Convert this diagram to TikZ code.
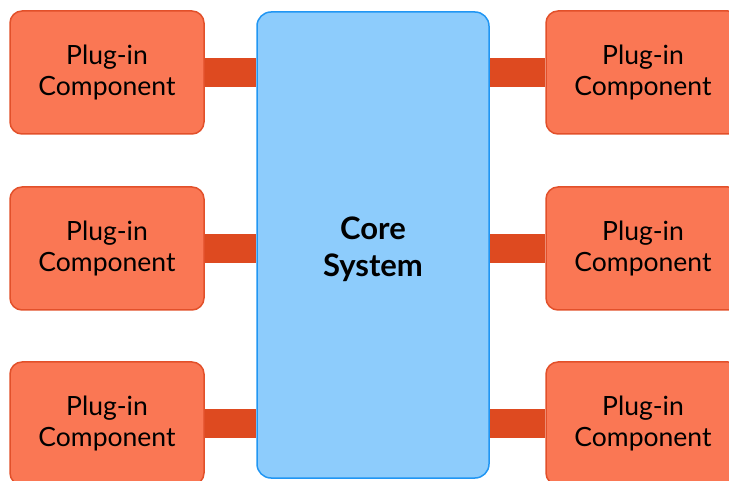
\documentclass[tikz,border=0pt]{standalone}
\usepackage{fontspec}
\setmainfont{Lato}
\usetikzlibrary{backgrounds}
\definecolor{plugfill}{HTML}{FA7754}
\definecolor{plugdraw}{HTML}{E2502A}
\definecolor{barcol}{HTML}{DE4A20}
\definecolor{corefill}{HTML}{8DCCFC}
\definecolor{coredraw}{HTML}{2196F3}
\begin{document}
\begin{tikzpicture}[x=1pt,y=-1pt,
  plug/.style={rectangle, rounded corners=12pt, minimum width=194pt, minimum height=123pt,
    fill=plugfill, draw=plugdraw, line width=1.5pt, align=center, inner sep=0pt,
    font=\fontsize{26.5}{31}\selectfont},
  core/.style={rectangle, rounded corners=14pt, minimum width=232pt, minimum height=466pt,
    fill=corefill, draw=coredraw, line width=1.5pt, inner sep=0pt},
  coretext/.style={align=center, inner sep=0pt, font=\bfseries\fontsize{31}{37}\selectfont},
  bar/.style={draw=barcol, line width=29pt, line cap=butt}]
\useasboundingbox (0,0) rectangle (729,481);
\node[core] (core) at (373,245) {};
\node[coretext] (coretxt) at (373,249) {Core\\System};
\node[plug] (L1) at (107,72.5) {Plug-in\\Component};
\node[plug] (L2) at (107,248.5) {Plug-in\\Component};
\node[plug] (L3) at (107,423.5) {Plug-in\\Component};
\node[plug] (R1) at (643,72.5) {Plug-in\\Component};
\node[plug] (R2) at (643,248.5) {Plug-in\\Component};
\node[plug] (R3) at (643,423.5) {Plug-in\\Component};
\begin{scope}[on background layer]
\foreach \n in {L1,L2,L3}{
  \draw[bar] (\n.east) -- (\n.east -| core.west);
}
\foreach \n in {R1,R2,R3}{
  \draw[bar] (\n.west) -- (\n.west -| core.east);
}
\end{scope}
\end{tikzpicture}
\end{document}
